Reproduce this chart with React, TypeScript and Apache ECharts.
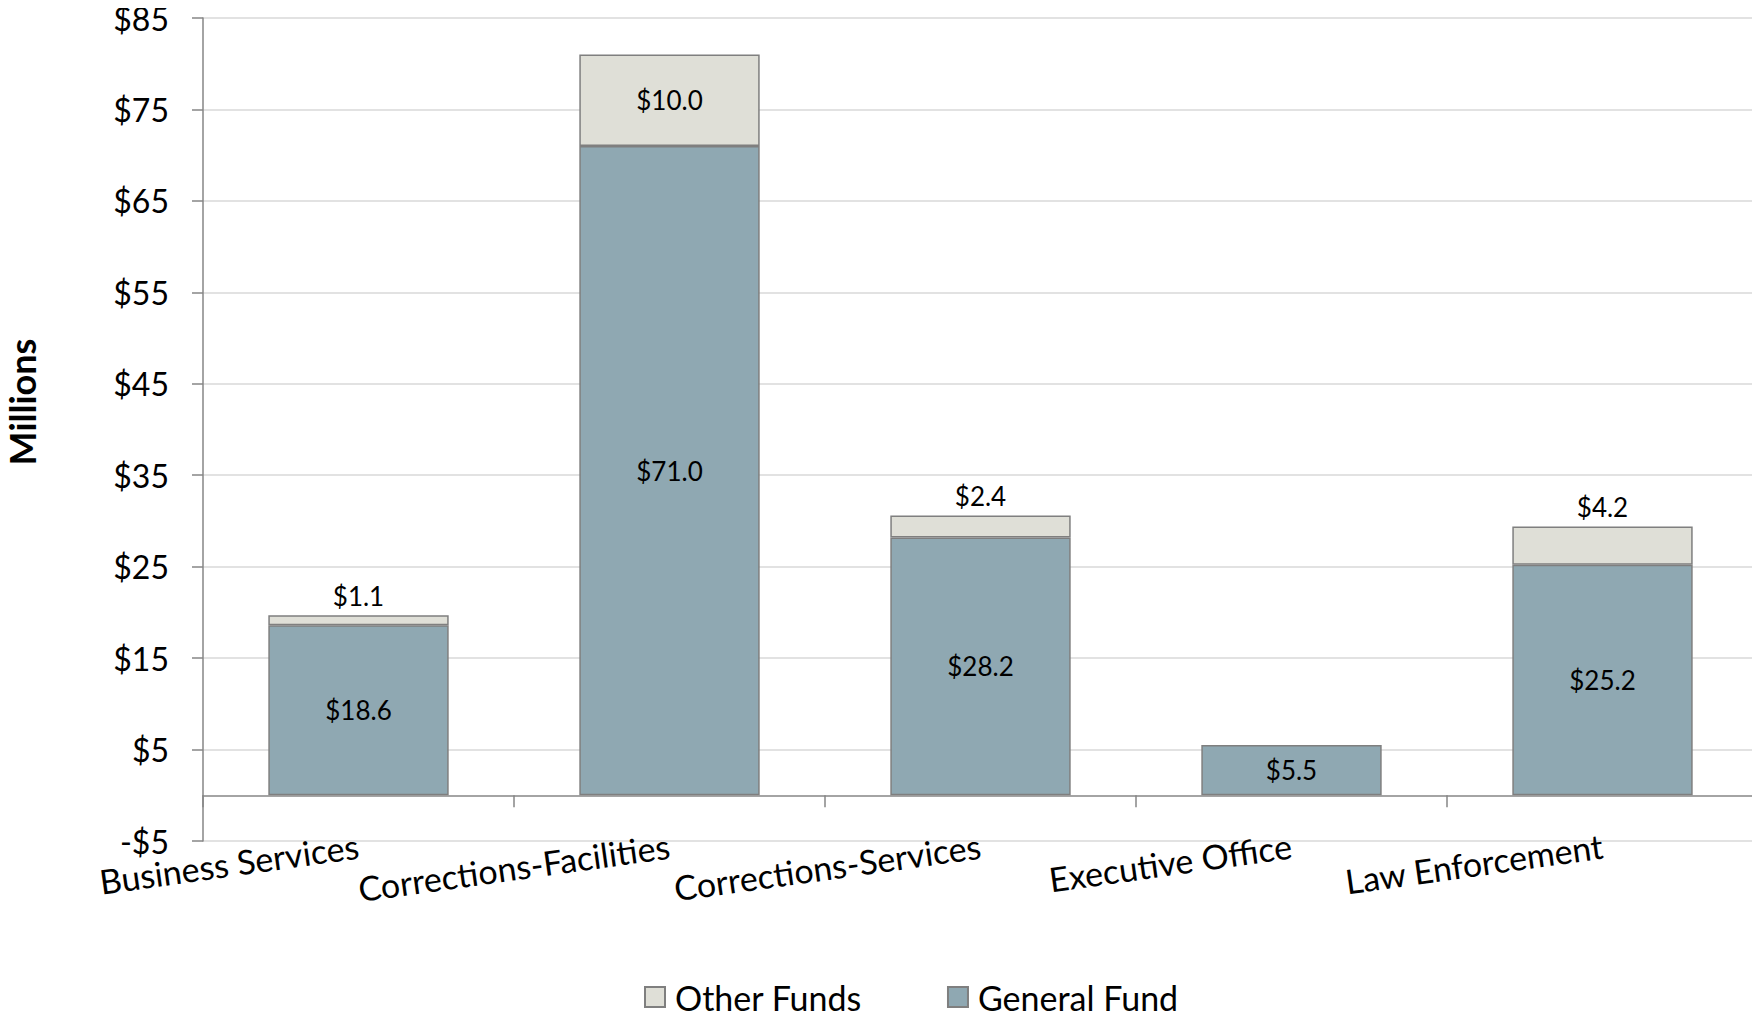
import React, { useEffect, useRef } from "react";
import * as echarts from "echarts";

const categories = [
  "Business Services",
  "Corrections-Facilities",
  "Corrections-Services",
  "Executive Office",
  "Law Enforcement",
];
const generalFund = [18.6, 71.0, 28.2, 5.5, 25.2];
const otherFunds: (number | null)[] = [1.1, 10.0, 2.4, null, 4.2];
const otherInsideIndex = [1];
const yMin = -5;
const yMax = 85;
const yStep = 10;

const FONT = "Lato, 'Noto Sans', sans-serif";

export default function App() {
  const ref = useRef<HTMLDivElement>(null);
  useEffect(() => {
    if (!ref.current) return;
    const chart = echarts.init(ref.current, undefined, { renderer: "svg" });
    const fmt = (v: number) => (v < 0 ? "-$" + Math.abs(v) : "$" + v);
    chart.setOption({
      animation: false,
      textStyle: { fontFamily: FONT },
      grid: { left: 203, right: 2, top: 18, bottom: 179, containLabel: false },
      legend: {
        data: ["Other Funds", "General Fund"],
        left: 644,
        top: 980,
        padding: 0,
        icon: "rect",
        itemWidth: 20,
        itemHeight: 20,
        itemGap: 85,
        textStyle: { fontSize: 34, color: "#000", fontFamily: FONT, padding: [0, 0, 0, 5] },
      },
      graphic: [
        {
          type: "text",
          x: 22,
          y: 402,
          rotation: Math.PI / 2,
          style: {
            text: "Millions",
            fontSize: 36,
            fontWeight: "bold",
            fontFamily: FONT,
            fill: "#000",
            textAlign: "center",
            textVerticalAlign: "middle",
          },
        },
      ],
      xAxis: {
        type: "category",
        data: categories,
        axisLine: { onZero: true, onZeroAxisIndex: 0, lineStyle: { color: "#868686", width: 1.5 } },
        axisTick: { show: true, length: 12, lineStyle: { color: "#868686", width: 1.5 } },
        axisLabel: {
          rotate: 8,
          margin: 4,
          fontSize: 34,
          color: "#000",
          fontFamily: FONT,
          interval: 0,
        },
      },
      yAxis: [
        {
          type: "value",
          min: yMin,
          max: yMax,
          axisLine: { show: false },
          axisTick: { show: false },
          axisLabel: { show: false },
          splitLine: { show: false },
        },
        {
          type: "value",
          position: "left",
          min: 0,
          max: yMax - yMin,
          interval: yStep,
          axisLine: { show: true, lineStyle: { color: "#868686", width: 1.5 } },
          axisTick: { show: true, length: 11, lineStyle: { color: "#868686", width: 1.5 } },
          axisLabel: {
            fontSize: 32,
            color: "#000",
            fontFamily: FONT,
            margin: 34,
            formatter: (v: number) => fmt(v + yMin),
          },
          splitLine: { show: true, lineStyle: { color: "#d9d9d9", width: 1.5 } },
        },
      ],
      series: [
        {
          name: "General Fund",
          type: "bar",
          stack: "total",
          yAxisIndex: 0,
          barWidth: "58%",
          data: generalFund,
          itemStyle: { color: "#8fa8b2", borderColor: "#7f7f7f", borderWidth: 1.5 },
          label: {
            show: true,
            position: "inside",
            fontSize: 26,
            color: "#000",
            fontFamily: FONT,
            formatter: (p: any) => "$" + Number(p.value).toFixed(1),
          },
        },
        {
          name: "Other Funds",
          type: "bar",
          stack: "total",
          yAxisIndex: 0,
          barWidth: "58%",
          data: otherFunds.map((v, i) =>
            v == null
              ? "-"
              : otherInsideIndex.includes(i)
              ? { value: v, label: { position: "inside" } }
              : v
          ),
          itemStyle: { color: "#dfdfd7", borderColor: "#7f7f7f", borderWidth: 1.5 },
          label: {
            show: true,
            position: "top",
            distance: 6,
            fontSize: 26,
            color: "#000",
            fontFamily: FONT,
            formatter: (p: any) => "$" + Number(p.value).toFixed(1),
          },
        },
      ],
    });
    return () => chart.dispose();
  }, []);
  return <div ref={ref} style={{ width: 1760, height: 1020, margin: -8 }} />;
}
